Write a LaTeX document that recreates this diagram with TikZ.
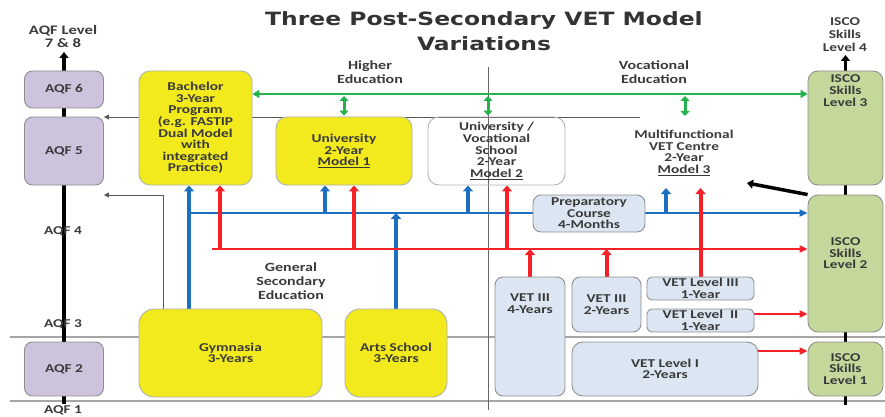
\documentclass[tikz,border=0pt]{standalone}
\usepackage{fontspec}
\setmainfont{Carlito}[FakeStretch=1.28]
\newfontfamily\titlefont{DejaVu Sans}[FakeStretch=1.28]
\usetikzlibrary{arrows.meta,backgrounds}

\definecolor{aqfpurple}{HTML}{CDC3DC}
\definecolor{iscogreen}{HTML}{C4D89C}
\definecolor{vetblue}{HTML}{DCE6F2}
\definecolor{gymyellow}{HTML}{F2EA1C}
\definecolor{arrblue}{HTML}{1C6FC0}
\definecolor{arrred}{HTML}{F52128}
\definecolor{arrgreen}{HTML}{24B24C}
\definecolor{txtgray}{HTML}{3A3A3A}
\definecolor{edgegray}{HTML}{8E8E8E}

\begin{document}
\begin{tikzpicture}[x=1pt, y=-1pt,
    boxtxt/.style={align=center, text=txtgray, font=\bfseries\fontsize{12}{11.6}\selectfont},
    lbl/.style={align=center, text=txtgray, font=\bfseries\fontsize{12.5}{13.5}\selectfont},
    box/.style={boxtxt, draw=edgegray, line width=0.9pt, rounded corners=8pt, inner sep=0pt},
    aqf/.style={box, fill=aqfpurple},
    isco/.style={box, fill=iscogreen, rounded corners=10pt},
    vet/.style={box, fill=vetblue},
    yel/.style={box, fill=gymyellow, draw=edgegray!70, rounded corners=11pt},
    thinline/.style={draw=black!65, line width=0.8pt, -{Triangle[width=5pt,length=5pt]}},
    sep/.style={draw=black!35, line width=1.1pt},
    blk/.style={line width=3.5pt, black},
    blktip/.style={blk, -{Triangle[width=9pt,length=6pt]}},
    bthick/.style={line width=4pt, arrblue, -{Triangle[width=10pt,length=6pt]}},
    rthick/.style={line width=4pt, arrred, -{Triangle[width=10pt,length=6pt]}},
    bthin/.style={line width=2pt, arrblue, -{Triangle[width=7pt,length=8pt]}},
    rthin/.style={line width=2pt, arrred, -{Triangle[width=7pt,length=8pt]}},
    grn/.style={line width=2.5pt, arrgreen, {Triangle[width=8pt,length=7pt]}-{Triangle[width=8pt,length=7pt]}},
    grnsmall/.style={line width=3pt, arrgreen, {Triangle[width=9pt,length=5pt]}-{Triangle[width=9pt,length=5pt]}, shorten <=2pt, shorten >=1pt},
  ]
  \useasboundingbox (0,0) rectangle (885,417);

  % title
  \node[align=center, text=black!80, font=\titlefont\bfseries\fontsize{18.3}{25}\selectfont] (title) at (484,31) {Three Post-Secondary VET Model\\Variations};

  % AQF levels
  \node[lbl, font=\bfseries\fontsize{13}{13}\selectfont] (aqf78) at (63,36) {AQF Level\\7 \& 8};
  \node[aqf, minimum width=79pt, minimum height=37pt] (aqf6) at (64,89.5) {AQF 6};
  \node[aqf, minimum width=79pt, minimum height=68pt] (aqf5) at (64,151) {AQF 5};
  \node[aqf, minimum width=79pt, minimum height=54pt] (aqf2) at (64,369) {AQF 2};
  \node[boxtxt] (aqf4) at (63,231) {AQF 4};
  \node[boxtxt] (aqf3) at (63,324) {AQF 3};
  \node[boxtxt] (aqf1) at (63,410) {AQF 1};

  % higher education
  \node[lbl] (hied) at (370,72) {Higher\\Education};
  \node[yel, minimum width=113pt, minimum height=114pt] (bach) at (195.5,128) {Bachelor\\3-Year\\Program\\(e.g. FASTIP\\Dual Model\\with\\integrated\\Practice)};
  \node[yel, minimum width=136pt, minimum height=68pt] (univ) at (344,151) {University\\2-Year\\\underline{Model 1}};
  \node[box, draw=black!30, rounded corners=11pt, minimum width=137pt, minimum height=68pt] (m2) at (496.5,151) {University /\\Vocational\\School\\2-Year\\\underline{Model 2}};

  % vocational education
  \node[lbl] (voced) at (654,72) {Vocational\\Education};
  \node[boxtxt] (m3) at (684,153) {Multifunctional\\VET Centre\\2-Year\\\underline{Model 3}};
  \node[vet, minimum width=112pt, minimum height=37pt] (prep) at (589,213.5) {Preparatory\\Course\\4-Months};
  \node[vet, minimum width=70pt, minimum height=119pt, label={[boxtxt, anchor=north, yshift=-14pt]north:{VET III\\4-Years}}] (v4) at (530,336.5) {};
  \node[vet, minimum width=69pt, minimum height=55pt] (v2) at (606.5,304.5) {VET III\\2-Years};
  \node[vet, rounded corners=5pt, minimum width=107pt, minimum height=23pt] (vl3) at (700.5,288.5) {VET Level III\\1-Year};
  \node[vet, rounded corners=5pt, minimum width=107pt, minimum height=23pt] (vl2) at (700.5,320.5) {VET Level\ \ II\\1-Year};
  \node[vet, rounded corners=11pt, minimum width=186pt, minimum height=54pt] (vl1) at (665,369) {VET Level I\\2-Years};

  % general secondary
  \node[lbl, font=\bfseries\fontsize{12.5}{14}\selectfont] (gened) at (291,281) {General\\Secondary\\Education};
  \node[yel, rounded corners=15pt, minimum width=183pt, minimum height=88pt] (gym) at (230.5,353) {Gymnasia\\3-Years};
  \node[yel, rounded corners=15pt, minimum width=102pt, minimum height=88pt] (arts) at (396,353) {Arts School\\3-Years};

  % ISCO skills
  \node[lbl, font=\bfseries\fontsize{12}{13}\selectfont] (isco4) at (845,35) {ISCO\\Skills\\Level 4};
  \node[isco, minimum width=75pt, minimum height=114pt, label={[boxtxt, anchor=north, yshift=-1pt]north:{ISCO\\Skills\\Level 3}}] (isco3) at (845.5,128) {};
  \node[isco, minimum width=75pt, minimum height=137pt, label={[boxtxt, yshift=10pt]center:{ISCO\\Skills\\Level 2}}] (isco2) at (845.5,263.5) {};
  \node[isco, minimum width=75pt, minimum height=54pt] (isco1) at (845.5,369) {ISCO\\Skills\\Level 1};

  % helper points
  \coordinate (aqftop) at (64,52);
  \coordinate (aqfbot) at (64,404);
  \coordinate (iscotop) at (845.5,55);
  \coordinate (iscobot) at (845.5,405);
  \coordinate (dtop) at (488,67);
  \coordinate (dbot) at (488,410);
  \coordinate (s3l) at (10,337);
  \coordinate (s3r) at (885,337);
  \coordinate (s1l) at (10,401);
  \coordinate (s1r) at (885,401);
  \coordinate (hl) at (640,117);
  \coordinate (g2) at (163,195);
  \coordinate (gr) at (0,94);
  \coordinate (bh) at (189,213);
  \coordinate (rh) at (212,249);
  \coordinate (m3b) at (684,188);
  \coordinate (m3g) at (685,117);
  \coordinate (m3p) at (747,183);
  \coordinate (xb2) at (325,0);
  \coordinate (xb3) at (468,0);
  \coordinate (xb4) at (666,0);
  \coordinate (xr1) at (220,0);
  \coordinate (xr2) at (354,0);
  \coordinate (xr3) at (507,0);
  \coordinate (r2) at ([yshift=6.5pt]vl2.east);
  \coordinate (r1) at ([yshift=18pt]vl1.east);

  \begin{scope}[on background layer]
    % frame lines
    \draw[sep] (s3l) -- (s3r);
    \draw[sep] (s1l) -- (s1r);
    \draw[draw=black!60, line width=0.8pt] (dtop) -- (dbot);
    \draw[thinline] (hl) -- (aqf5.east |- hl);
    \draw[thinline] (gym.north -| g2) -- (g2) -- (aqf5.east |- g2);

    % level spines
    \draw[blktip] (aqf6.north) -- (aqftop);
    \draw[blk] (aqf6.south) -- (aqf5.north);
    \draw[blk] (aqf5.south) -- (aqf2.north);
    \draw[blk] (aqf2.south) -- (aqfbot);
    \draw[blktip] (isco3.north) -- (iscotop);
    \draw[blk] (isco3.south) -- (isco2.north);
    \draw[blk] (isco2.south) -- (isco1.north);
    \draw[blk] (isco1.south) -- (iscobot);
    \draw[blktip] (isco2.north west) -- (m3p);

    % green links
    \draw[grn] (bach.east |- gr) -- (isco3.west |- gr);
    \draw[grnsmall] (univ.north |- gr) -- (univ.north);
    \draw[grnsmall] (dtop |- gr) -- (dtop |- univ.north);
    \draw[grnsmall] (m3g |- gr) -- (m3g);

    % blue links
    \draw[bthin] (bh) -- (isco2.west |- bh);
    \draw[bthick] (gym.north -| bh) -- (bach.south -| bh);
    \draw[bthick] (bh -| xb2) -- (univ.south -| xb2);
    \draw[bthick] (arts.north) -- (arts.north |- bh);
    \draw[bthick] (bh -| xb3) -- (m2.south -| xb3);
    \draw[bthick] (bh -| xb4) -- (m3b -| xb4);

    % red links
    \draw[rthin] (rh) -- (isco2.west |- rh);
    \draw[rthick] (rh -| xr1) -- (bach.south -| xr1);
    \draw[rthick] (rh -| xr2) -- (univ.south -| xr2);
    \draw[rthick] (rh -| xr3) -- (m2.south -| xr3);
    \draw[rthick] (v4.north) -- (v4.north |- rh);
    \draw[rthick] (v2.north) -- (v2.north |- rh);
    \draw[rthick] (vl3.north) -- (vl3.north |- m3b);
    \draw[rthin] (r2) -- (isco2.west |- r2);
    \draw[rthin] (r1) -- (isco1.west |- r1);
  \end{scope}
\end{tikzpicture}
\end{document}
